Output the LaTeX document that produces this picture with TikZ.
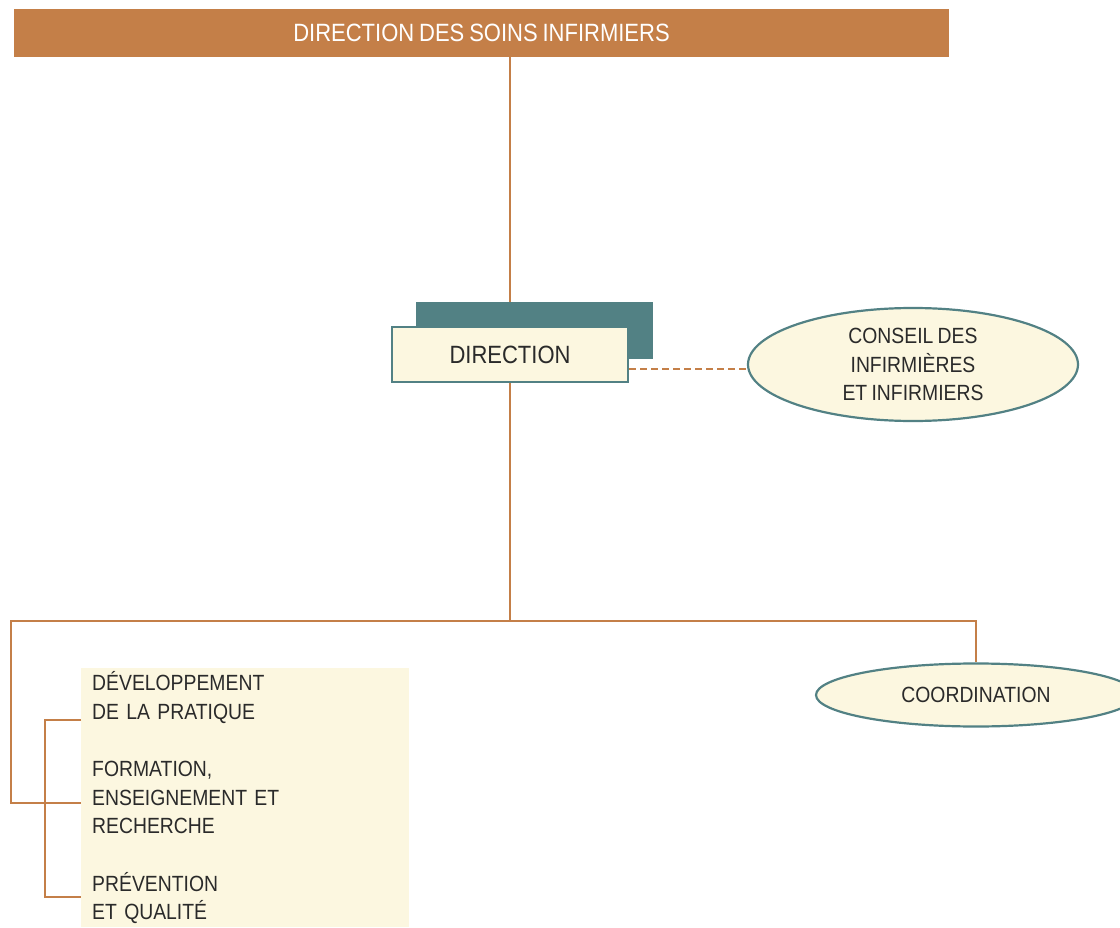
\documentclass[tikz,border=0pt]{standalone}
\usepackage{fontspec}
\setmainfont[FakeStretch=0.88, WordSpace=0.8]{Liberation Sans}
\usetikzlibrary{shapes,arrows}
\definecolor{ochre}{HTML}{C47F48}
\definecolor{teal}{HTML}{528184}
\definecolor{cream}{HTML}{FCF7E0}
\definecolor{ink}{HTML}{2A2A2A}
\tikzstyle{banner} = [rectangle, fill=ochre, text=white, inner sep=0pt,
    minimum width=935pt, minimum height=48pt, font=\fontsize{25}{30}\selectfont]
\tikzstyle{shadowbox} = [rectangle, fill=teal, minimum width=237pt, minimum height=57pt]
\tikzstyle{block} = [rectangle, draw=teal, line width=2.2pt, fill=cream, text=ink,
    minimum width=236pt, minimum height=55pt, font=\fontsize{25}{30}\selectfont]
\tikzstyle{cloud} = [draw=teal, ellipse, line width=2.2pt, fill=cream, text=ink, inner sep=0pt,
    align=center, font=\fontsize{22}{28.5}\selectfont]
\tikzstyle{listbox} = [rectangle, fill=cream, text=ink, inner xsep=11pt, inner ysep=0pt,
    text width=306pt, align=left, minimum height=259pt, font=\fontsize{22}{28.7}\selectfont]
\tikzstyle{line} = [draw=ochre, line width=2pt]
\tikzstyle{dashline} = [draw=ochre, line width=2pt, dash pattern=on 7pt off 4pt]

\begin{document}
\begin{tikzpicture}[x=1pt, y=-1pt]
        \useasboundingbox (0,0) rectangle (1120,928);

        % Place nodes
        \node [banner] (dsi) at (481.5,33) {DIRECTION DES SOINS INFIRMIERS};
        \node [shadowbox] (shadow) at (534.5,330.5) {};
        \node [block] (dir) at (510,354.5) {DIRECTION};
        \node [cloud, minimum width=330pt, minimum height=113pt] (conseil) at (913,364.5)
            {CONSEIL DES\\INFIRMIÈRES\\ET INFIRMIERS};
        \node [cloud, minimum width=320pt, minimum height=63pt] (coord) at (976,695) {COORDINATION};
        \node [listbox, anchor=north west] (list) at (81,668)
            {DÉVELOPPEMENT\\DE LA PRATIQUE\\[28.7pt]FORMATION,\\ENSEIGNEMENT ET\\RECHERCHE\\[28.7pt]PRÉVENTION\\ET QUALITÉ};
        \coordinate (fork) at (510,621);
        \coordinate (fl) at (11,621);
        \coordinate (bt) at (45,720);
        \coordinate (bb) at (45,897);

        % Draw edges
        \path [line] (dir |- dsi.south) -- (dir |- shadow.north);
        \path [line] (dir.south) -- (fork);
        \path [line] (fork) -| (coord.north);
        \path [line] (fork) -- (fl) |- ([yshift=-5.5pt]list.west);
        \path [line] (bt -| list.west) -- (bt) -- (bb) -- (bb -| list.west);
        \path [dashline] ([yshift=-14.5pt]dir.east) -- ([yshift=-14.5pt]dir.east -| conseil.west);

    \end{tikzpicture}
\end{document}
